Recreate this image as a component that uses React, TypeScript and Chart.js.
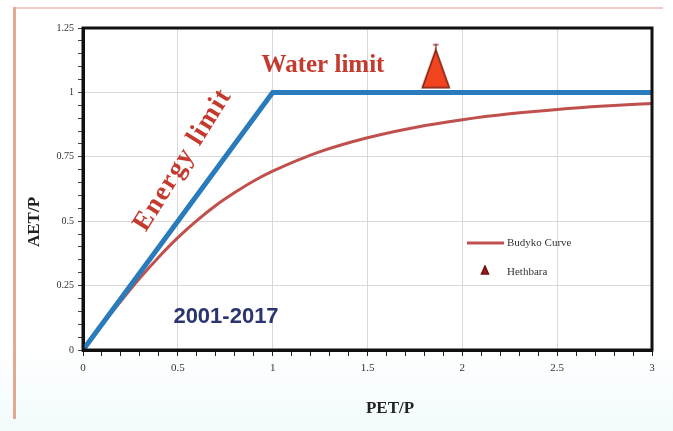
import React, { useEffect, useRef } from 'react';
import { Chart, registerables } from 'chart.js';
Chart.register(...registerables);

const budykoX = [0, 0.1, 0.2, 0.3, 0.4, 0.5, 0.6, 0.7, 0.8, 0.9, 1.0, 1.25, 1.5, 1.75, 2.0, 2.25, 2.5, 2.75, 3.0];
const budykoY = [0, 0.098, 0.19, 0.279, 0.361, 0.436, 0.502, 0.561, 0.611, 0.656, 0.694, 0.77, 0.824, 0.864, 0.894, 0.917, 0.934, 0.947, 0.957];
const limitX = [0, 1, 3];
const limitY = [0, 1, 1];
const hethbaraX = [1.86];
const hethbaraY = [1.1];
const xTickLabels = ['0', '0.5', '1', '1.5', '2', '2.5', '3'];
const yTickLabels = ['0', '0.25', '0.5', '0.75', '1', '1.25'];
const seriesNames = ['Budyko Curve', 'Hethbara'];

const RED = '#c0504d';
const BLUE = '#2a7bbb';
const TXT_RED = '#c53a2f';

function isMult(v: number, step: number) {
  const r = v / step;
  return Math.abs(r - Math.round(r)) < 1e-6;
}

function makeTriangle(w: number, h: number, fill: string, stroke: string, withTip: boolean) {
  const c = document.createElement('canvas');
  c.width = w;
  c.height = h;
  const g = c.getContext('2d')!;
  const top = withTip ? 8 : 1;
  g.beginPath();
  g.moveTo(w / 2, top);
  g.lineTo(w - 1.5, h - 4);
  g.lineTo(1.5, h - 4);
  g.closePath();
  g.fillStyle = fill;
  g.fill();
  g.lineWidth = 1.5;
  g.strokeStyle = stroke;
  g.stroke();
  if (withTip) {
    g.strokeStyle = stroke;
    g.lineWidth = 1.2;
    g.beginPath();
    g.moveTo(w / 2, 2);
    g.lineTo(w / 2, top + 2);
    g.moveTo(w / 2 - 3, 3);
    g.lineTo(w / 2 + 3, 3);
    g.stroke();
  }
  return c;
}

export default function App() {
  const ref = useRef<HTMLCanvasElement | null>(null);
  useEffect(() => {
    if (!ref.current) return;
    const bigTri = makeTriangle(30, 50, '#f0451e', '#7a1a10', true);
    const smallTri = makeTriangle(10, 13, '#a01c1c', '#6a1010', false);

    const overlay = {
      id: 'overlay',
      afterDraw(chart: any) {
        const { ctx, chartArea: a } = chart;
        ctx.save();
        // frame
        ctx.strokeStyle = '#111';
        ctx.lineWidth = 3;
        ctx.strokeRect(a.left, a.top, a.right - a.left, a.bottom - a.top);
        // axis titles
        ctx.fillStyle = '#222';
        ctx.font = 'bold 17px "Liberation Serif"';
        ctx.textAlign = 'center';
        ctx.textBaseline = 'middle';
        ctx.fillText('PET/P', 390, 409);
        ctx.save();
        ctx.translate(35, 222);
        ctx.rotate(-Math.PI / 2);
        ctx.fillText('AET/P', 0, 0);
        ctx.restore();
        // annotations
        ctx.fillStyle = TXT_RED;
        ctx.font = 'bold 25px "Liberation Serif"';
        ctx.fillText('Water limit', 323, 66);
        ctx.save();
        ctx.translate(183, 160);
        ctx.rotate(-58 * Math.PI / 180);
        ctx.font = 'bold 27px "Liberation Serif"';
        try { (ctx as any).letterSpacing = '1.5px'; } catch (e) {}
        ctx.fillText('Energy limit', 0, 0);
        try { (ctx as any).letterSpacing = '0px'; } catch (e) {}
        ctx.restore();
        ctx.fillStyle = '#2b3570';
        ctx.font = 'bold 22px "Liberation Sans Narrow", "Liberation Sans"';
        ctx.fillText('2001-2017', 226, 317);
        // legend
        ctx.strokeStyle = RED;
        ctx.lineWidth = 3;
        ctx.beginPath();
        ctx.moveTo(467, 243);
        ctx.lineTo(504, 243);
        ctx.stroke();
        ctx.drawImage(smallTri, 480, 265);
        ctx.fillStyle = '#333';
        ctx.font = '11px "Liberation Serif"';
        ctx.textAlign = 'left';
        ctx.fillText(seriesNames[0], 507, 243);
        ctx.fillText(seriesNames[1], 507, 272);
        ctx.restore();
      },
    };

    const chart = new Chart(ref.current, {
      type: 'scatter',
      data: {
        datasets: [
          {
            label: seriesNames[1],
            data: hethbaraX.map((x, i) => ({ x, y: hethbaraY[i] })),
            pointStyle: bigTri as any,
            pointRadius: 15,
            showLine: false,
          },
          {
            label: 'Limit',
            data: limitX.map((x, i) => ({ x, y: limitY[i] })),
            showLine: true,
            borderColor: BLUE,
            borderWidth: 5,
            pointRadius: 0,
            fill: false,
          },
          {
            label: seriesNames[0],
            data: budykoX.map((x, i) => ({ x, y: budykoY[i] })),
            showLine: true,
            borderColor: RED,
            borderWidth: 3,
            pointRadius: 0,
            cubicInterpolationMode: 'monotone',
            fill: false,
          },
        ],
      },
      options: {
        animation: false,
        responsive: false,
        layout: { padding: { top: 28, right: 21, left: 0, bottom: 0 } },
        plugins: { legend: { display: false }, tooltip: { enabled: false } },
        scales: {
          x: {
            type: 'linear',
            min: 0,
            max: 3,
            afterFit: (s: any) => { s.height = 81; },
            ticks: {
              stepSize: 0.1,
              autoSkip: false,
              maxRotation: 0,
              padding: 6,
              color: '#333',
              font: { family: '"Liberation Serif"', size: 11 },
              callback: (v: any) => (isMult(Number(v), 0.5) ? xTickLabels[Math.round(Number(v) * 2)] : ''),
            },
            grid: {
              color: (c: any) => (isMult(c.tick.value, 0.5) ? '#d8d8d8' : 'rgba(0,0,0,0)'),
              tickColor: '#222',
              tickLength: 6,
            },
            border: { display: true, color: '#111', width: 3 },
          },
          y: {
            type: 'linear',
            min: 0,
            max: 1.25,
            afterFit: (s: any) => { s.width = 83; },
            ticks: {
              stepSize: 0.05,
              autoSkip: false,
              padding: 4,
              color: '#333',
              font: { family: '"Liberation Serif"', size: 10 },
              callback: (v: any) => (isMult(Number(v), 0.25) ? yTickLabels[Math.round(Number(v) * 4)] : ''),
            },
            grid: {
              color: (c: any) => (isMult(c.tick.value, 0.25) ? '#d8d8d8' : 'rgba(0,0,0,0)'),
              tickColor: '#444',
              tickLength: 5,
            },
            border: { display: true, color: '#111', width: 3 },
          },
        },
      },
      plugins: [overlay],
    } as any);
    return () => chart.destroy();
  }, []);

  return (
    <div style={{ position: 'fixed', left: 0, top: 0, width: 673, height: 431, background: 'linear-gradient(#ffffff 80%, #f2fbfc)' }}>
      <div style={{ position: 'absolute', left: 13, top: 7, width: 650, height: 2, background: '#f1cdc8' }} />
      <div style={{ position: 'absolute', left: 13, top: 7, width: 3, height: 412, background: '#e3a890' }} />
      <canvas ref={ref} width={673} height={431} style={{ position: 'absolute', left: 0, top: 0 }} />
    </div>
  );
}
